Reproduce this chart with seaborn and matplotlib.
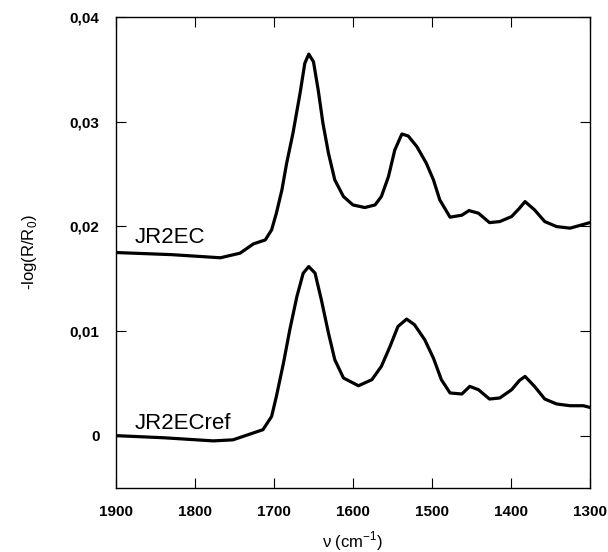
import matplotlib
matplotlib.use("Agg")
import matplotlib.pyplot as plt
import seaborn as sns
import pandas as pd

# spectrum JR2EC (upper trace), wavenumber in cm-1 and -log(R/R0)
wn_ec = [1900, 1830, 1768, 1743, 1726, 1711, 1703, 1697, 1690, 1684, 1676, 1667,
         1661, 1656, 1650, 1644, 1638, 1631, 1623, 1612, 1600, 1585, 1572, 1564,
         1555, 1547, 1538, 1530, 1519, 1507, 1498, 1490, 1477, 1462, 1453, 1441,
         1427, 1414, 1399, 1389, 1382, 1370, 1357, 1342, 1325, 1313, 1300]
ab_ec = [0.0175, 0.0173, 0.0170, 0.01744, 0.01833, 0.01871, 0.01967, 0.02126,
         0.02348, 0.02603, 0.02890, 0.03272, 0.03558, 0.03647, 0.03573, 0.03303,
         0.02985, 0.02699, 0.02444, 0.02285, 0.02205, 0.02180, 0.02205, 0.02285,
         0.02476, 0.02730, 0.02883, 0.02864, 0.02762, 0.02603, 0.02444, 0.02253,
         0.02088, 0.02107, 0.02151, 0.02126, 0.02036, 0.02046, 0.02094, 0.02174,
         0.02237, 0.02158, 0.02046, 0.01998, 0.01983, 0.02008, 0.02036]

# spectrum JR2ECref (lower trace)
wn_ref = [1900, 1840, 1777, 1752, 1714, 1703, 1697, 1688, 1680, 1671, 1663, 1656,
          1648, 1640, 1631, 1623, 1612, 1593, 1576, 1564, 1553, 1543, 1532, 1522,
          1509, 1498, 1488, 1477, 1462, 1452, 1441, 1427, 1414, 1399, 1389, 1382,
          1370, 1357, 1342, 1325, 1308, 1300]
ab_ref = [0.0000, -0.0002, -0.0005, -0.0004, 0.00057, 0.00184, 0.00375, 0.00694,
          0.01012, 0.01330, 0.01553, 0.01616, 0.01553, 0.01298, 0.00980, 0.00726,
          0.00551, 0.00477, 0.00535, 0.00662, 0.00853, 0.01043, 0.01114, 0.01060,
          0.00916, 0.00740, 0.00535, 0.00408, 0.00398, 0.00471, 0.00439, 0.00350,
          0.00360, 0.00439, 0.00528, 0.00566, 0.00471, 0.00350, 0.00303, 0.00286,
          0.00286, 0.00270]

x_ticks = [1900, 1800, 1700, 1600, 1500, 1400, 1300]
y_ticks = [0, 0.01, 0.02, 0.03, 0.04]
y_ticklabels = ["0", "0,01", "0,02", "0,03", "0,04"]

sns.set_style("ticks")
plt.rcParams["font.family"] = ["Liberation Sans", "DejaVu Sans"]

fig = plt.figure(figsize=(6.08, 5.52), dpi=100)
ax = fig.add_axes([0.191, 0.116, 0.779, 0.853])

df_ec = pd.DataFrame({"wn": wn_ec, "ab": ab_ec})
df_ref = pd.DataFrame({"wn": wn_ref, "ab": ab_ref})
sns.lineplot(data=df_ec, x="wn", y="ab", sort=False, color="black", lw=2.3, ax=ax)
sns.lineplot(data=df_ref, x="wn", y="ab", sort=False, color="black", lw=2.3, ax=ax)
for ln in ax.lines:
    ln.set_solid_joinstyle("round")

ax.set_xlim(1900, 1300)
ax.set_ylim(-0.005, 0.04)
ax.set_xticks(x_ticks)
ax.set_xticklabels([str(t) for t in x_ticks])
ax.set_yticks(y_ticks)
ax.set_yticklabels(y_ticklabels)
ax.tick_params(direction="in", length=7, width=0.8, top=True, right=True,
               labelsize=11, pad=12, colors="black")
for lab in ax.get_xticklabels() + ax.get_yticklabels():
    lab.set_fontweight("bold")
for s in ax.spines.values():
    s.set_linewidth(1.0)
    s.set_color("black")

ax.text(1876, 0.0189, "JR2EC", fontsize=16, va="center", ha="left", color="black")
ax.text(1876, 0.0012, "JR2ECref", fontsize=16, va="center", ha="left", color="black")

ax.set_xlabel(r"$\mathregular{\nu}$ (cm$^{\mathregular{-1}}$)", fontsize=12,
              labelpad=8, color="black")
ax.set_ylabel(r"-log(R/R$_{\mathregular{0}}$)", fontsize=12, labelpad=22, color="black")

fig.savefig("out.png", dpi=100)
